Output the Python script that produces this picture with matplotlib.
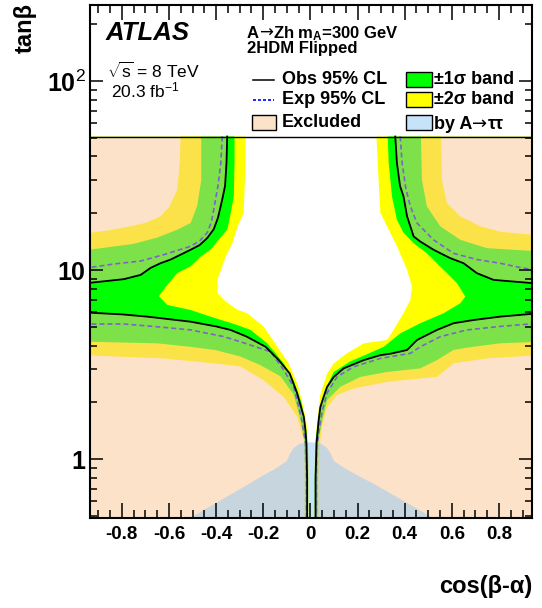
import numpy as np
import matplotlib
matplotlib.use("Agg")
import matplotlib.pyplot as plt
from matplotlib.patches import Rectangle
from matplotlib.lines import Line2D
from matplotlib.ticker import MultipleLocator, LogLocator, NullFormatter

plt.rcParams['font.family'] = ['Liberation Sans', 'DejaVu Sans']
plt.rcParams['mathtext.fontset'] = 'custom'
plt.rcParams['mathtext.rm'] = 'Liberation Sans'
plt.rcParams['mathtext.it'] = 'Liberation Sans:italic'
plt.rcParams['mathtext.bf'] = 'Liberation Sans:bold'

# contours, (cos(beta-alpha), tan beta), from top to bottom
# left half: excluded where x < curve ; right half: excluded where x > curve
obs_left = np.array([
    (-0.353, 51), (-0.356, 37), (-0.362, 28), (-0.374, 23.7), (-0.392, 19.0), (-0.410, 16.5),
    (-0.438, 14.8), (-0.470, 13.6), (-0.508, 12.85), (-0.593, 11.4), (-0.636, 10.9), (-0.678, 10.3),
    (-0.720, 9.46), (-0.791, 8.98), (-0.97, 8.5),
    (-0.97, 6.0), (-0.800, 5.85), (-0.692, 5.69), (-0.508, 5.35), (-0.400, 5.05), (-0.339, 4.84),
    (-0.270, 4.46), (-0.190, 3.94), (-0.134, 3.35), (-0.088, 2.85), (-0.057, 2.25), (-0.028, 1.68),
    (-0.021, 1.42), (-0.017, 1.22), (-0.014, 0.8), (-0.014, 0.45)])
exp_left = np.array([
    (-0.374, 51), (-0.380, 37), (-0.392, 28), (-0.410, 21), (-0.420, 18), (-0.438, 15.8),
    (-0.470, 14.3), (-0.508, 13.4), (-0.622, 12.1), (-0.720, 11.2), (-0.833, 10.8), (-0.97, 10.2),
    (-0.97, 5.2), (-0.790, 5.2), (-0.650, 5.03), (-0.508, 4.84), (-0.367, 4.46), (-0.297, 4.19),
    (-0.169, 3.71), (-0.113, 2.97), (-0.071, 2.42), (-0.040, 1.70), (-0.022, 1.26), (-0.018, 0.8),
    (-0.018, 0.45)])
p1_left = np.array([
    (-0.463, 51), (-0.463, 30), (-0.480, 22), (-0.508, 17.8), (-0.565, 16.4), (-0.650, 14.9),
    (-0.750, 13.8), (-0.97, 12.7),
    (-0.97, 4.2), (-0.650, 4.11), (-0.508, 3.94), (-0.400, 3.78), (-0.297, 3.50), (-0.212, 3.15),
    (-0.127, 2.75), (-0.071, 2.20), (-0.042, 1.62), (-0.026, 1.26), (-0.021, 0.8), (-0.021, 0.45)])
p2_left = np.array([
    (-0.551, 51), (-0.554, 37), (-0.565, 26.7), (-0.600, 21.5), (-0.636, 19.3), (-0.700, 17.8),
    (-0.763, 17.1), (-0.850, 16.3), (-0.97, 15.6),
    (-0.97, 3.56), (-0.622, 3.42), (-0.410, 3.22), (-0.297, 3.10), (-0.198, 2.62), (-0.113, 2.14),
    (-0.056, 1.68), (-0.028, 1.26), (-0.025, 0.8), (-0.025, 0.45)])
m1_left = np.array([
    (-0.322, 51), (-0.322, 37), (-0.325, 24.6), (-0.340, 19.5), (-0.353, 16.4), (-0.389, 14.5),
    (-0.424, 12.85), (-0.466, 11.8), (-0.508, 10.5), (-0.565, 9.66), (-0.607, 8.38), (-0.643, 7.3),
    (-0.607, 6.56), (-0.508, 6.17), (-0.424, 5.69), (-0.311, 5.14), (-0.254, 4.84), (-0.183, 4.11),
    (-0.113, 3.22), (-0.071, 2.62), (-0.038, 2.0), (-0.019, 1.5), (-0.013, 1.2), (-0.010, 0.8),
    (-0.010, 0.45)])
m2_left = np.array([
    (-0.275, 51), (-0.278, 30), (-0.283, 20), (-0.310, 17), (-0.330, 14), (-0.360, 11.8),
    (-0.380, 10), (-0.395, 8.9), (-0.395, 7.6), (-0.360, 6.85), (-0.311, 6.2), (-0.268, 5.93),
    (-0.198, 5.03), (-0.140, 3.94), (-0.092, 3.22), (-0.053, 2.47), (-0.030, 1.9), (-0.018, 1.6),
    (-0.010, 1.26), (-0.007, 0.8), (-0.007, 0.45)])

obs_right = np.array([
    (0.360, 51), (0.367, 37), (0.380, 28), (0.395, 24.6), (0.410, 19.3), (0.438, 15.1),
    (0.466, 14.2), (0.522, 12.85), (0.593, 11.6), (0.650, 10.9), (0.706, 9.66), (0.777, 8.9),
    (0.97, 8.5),
    (0.97, 5.93), (0.805, 5.69), (0.692, 5.46), (0.607, 5.25), (0.537, 4.84), (0.452, 4.28),
    (0.410, 3.79), (0.339, 3.62), (0.297, 3.56), (0.226, 3.35), (0.141, 3.03), (0.099, 2.73),
    (0.071, 2.42), (0.056, 2.14), (0.042, 1.89), (0.035, 1.61), (0.026, 1.22), (0.022, 0.8),
    (0.022, 0.45)])
exp_right = np.array([
    (0.381, 51), (0.389, 37), (0.405, 27), (0.424, 21.8), (0.452, 17.8), (0.522, 14.5),
    (0.607, 12.3), (0.706, 11.4), (0.805, 10.9), (0.897, 10.3), (0.97, 10.0),
    (0.97, 5.25), (0.805, 5.05), (0.664, 4.84), (0.551, 4.46), (0.466, 3.94), (0.424, 3.64),
    (0.297, 3.42), (0.183, 3.09), (0.113, 2.73), (0.071, 2.25), (0.050, 1.8), (0.036, 1.40),
    (0.029, 1.2), (0.026, 0.8), (0.026, 0.45)])
p1_right = np.array([
    (0.469, 51), (0.473, 30.2), (0.494, 21.8), (0.551, 17.1), (0.636, 14.5), (0.749, 13.1),
    (0.97, 12.6),
    (0.97, 4.19), (0.805, 4.11), (0.664, 3.90), (0.607, 3.79), (0.537, 3.35), (0.466, 3.03),
    (0.325, 2.90), (0.212, 2.73), (0.127, 2.42), (0.071, 2.06), (0.050, 1.6), (0.034, 1.26),
    (0.030, 0.8), (0.030, 0.45)])
p2_right = np.array([
    (0.554, 51), (0.558, 30), (0.579, 22.7), (0.636, 19.3), (0.720, 17.1), (0.805, 16.0),
    (0.97, 15.3),
    (0.97, 3.56), (0.749, 3.42), (0.607, 3.22), (0.537, 2.73), (0.466, 2.68), (0.325, 2.57),
    (0.183, 2.37), (0.113, 2.19), (0.071, 1.89), (0.050, 1.5), (0.042, 1.26), (0.036, 0.8),
    (0.036, 0.45)])
m1_right = np.array([
    (0.328, 51), (0.332, 37), (0.346, 24.6), (0.367, 18.5), (0.395, 15.8), (0.438, 13.9),
    (0.494, 12.3), (0.565, 10.06), (0.622, 8.55), (0.657, 7.26), (0.636, 6.70), (0.565, 5.93),
    (0.466, 5.25), (0.381, 4.64), (0.311, 3.94), (0.240, 3.60), (0.169, 3.30), (0.099, 2.90),
    (0.060, 2.30), (0.035, 1.70), (0.022, 1.25), (0.018, 0.8), (0.018, 0.45)])
m2_right = np.array([
    (0.280, 51), (0.289, 30.2), (0.297, 20.1), (0.325, 17.1), (0.367, 13.4), (0.410, 10.06),
    (0.431, 8.21), (0.424, 6.98), (0.395, 5.93), (0.353, 4.84), (0.325, 4.28), (0.226, 4.11),
    (0.155, 3.64), (0.099, 3.22), (0.071, 2.85), (0.042, 2.2), (0.028, 1.55), (0.020, 1.22),
    (0.016, 0.8), (0.015, 0.45)])

# region excluded by A->tautau
tautau = np.array([
    (-0.53, 0.45), (-0.51, 0.49), (-0.42, 0.57), (-0.34, 0.65), (-0.27, 0.73), (-0.21, 0.81),
    (-0.15, 0.89), (-0.10, 0.98), (-0.085, 1.08), (-0.07, 1.15), (-0.045, 1.21), (0.0, 1.235),
    (0.045, 1.21), (0.07, 1.15), (0.085, 1.08), (0.10, 0.98), (0.15, 0.89), (0.21, 0.81),
    (0.28, 0.73), (0.35, 0.65), (0.43, 0.57), (0.52, 0.49), (0.54, 0.45)])

xticks = [-0.8, -0.6, -0.4, -0.2, 0, 0.2, 0.4, 0.6, 0.8]
xtick_labels = ['-0.8', '-0.6', '-0.4', '-0.2', '0', '0.2', '0.4', '0.6', '0.8']
yticks = [1, 10, 100]
ytick_labels = [r'$\mathbf{1}$', r'$\mathbf{10}$', r'$\mathbf{10}^{2}$']

c_yellow = '#ffff00'
c_green = '#00ff00'
c_excl = (0.98, 0.776, 0.576, 0.5)
c_tau = (0.569, 0.788, 0.961, 0.5)

W, H = 542, 608
fig = plt.figure(figsize=(W / 100, H / 100), dpi=100)
ax = fig.add_axes([90 / W, 1 - 518 / H, 442 / W, 513 / H])
ax.set_yscale('log')


def region(curve, side):
    # close the contour against the plot edge on its excluded side
    xs = np.concatenate([[side], curve[:, 0], [side]])
    ys = np.concatenate([[curve[0, 1]], curve[:, 1], [curve[-1, 1]]])
    return xs, ys


for crv_l, crv_r, col in [(m2_left, m2_right, c_yellow), (m1_left, m1_right, c_green),
                          (p1_left, p1_right, c_yellow), (p2_left, p2_right, 'white')]:
    ax.fill(*region(crv_l, -1.0), color=col, lw=0, zorder=1)
    ax.fill(*region(crv_r, 1.0), color=col, lw=0, zorder=1)

# expected line sits under the semi-transparent excluded layer
for crv in (exp_left, exp_right):
    ax.plot(crv[:, 0], crv[:, 1], color='#0000ff', lw=1.2, dashes=(3, 1.8), zorder=1.2)

ax.fill(*region(obs_left, -1.0), color=c_excl, lw=0, zorder=1.4)
ax.fill(*region(obs_right, 1.0), color=c_excl, lw=0, zorder=1.4)
ax.fill(tautau[:, 0], tautau[:, 1], color=c_tau, lw=0, zorder=1.5)

for crv in (obs_left, obs_right):
    ax.plot(crv[:, 0], crv[:, 1], color='black', lw=1.3, zorder=2)

ax.axhline(51, color='black', lw=1.0, zorder=2)

ax.set_xlim(-0.935, 0.94)
ax.set_ylim(0.49, 253)

ax.set_xticks(xticks, labels=xtick_labels)
ax.xaxis.set_minor_locator(MultipleLocator(0.05))
ax.set_yticks(yticks, labels=ytick_labels)
ax.yaxis.set_minor_locator(LogLocator(base=10, subs=np.arange(2, 10)))
ax.yaxis.set_minor_formatter(NullFormatter())
ax.tick_params(which='both', direction='in', top=True, right=True, width=1.1)
ax.tick_params(axis='x', which='major', length=10.8, pad=6, labelsize=13.5)
ax.tick_params(axis='x', which='minor', length=5.5)
ax.tick_params(axis='y', which='major', length=9.4, pad=3, labelsize=18)
ax.tick_params(axis='y', which='minor', length=5)
for lab in ax.get_xticklabels():
    lab.set_fontweight('bold')
for sp in ax.spines.values():
    sp.set_linewidth(1.5)


def fx(px):
    return px / W


def fy(py):
    return 1 - py / H


renderer = fig.canvas.get_renderer()


def text_run(x_px, base_py, pieces, size):
    # pieces of (text, family, weight) set one after another on a common baseline
    x = fx(x_px)
    for s, fam, wt in pieces:
        t = fig.text(x, fy(base_py), s, family=fam, fontweight=wt, fontsize=size,
                     ha='left', va='baseline')
        x = t.get_window_extent(renderer).x1 / W


fig.text(fx(532), fy(587), 'cos(β-α)', ha='right', va='center', fontsize=17, fontweight='bold')
fig.text(fx(25), fy(3), 'tanβ', ha='center', va='top', rotation=90, fontsize=17, fontweight='bold')

fig.text(fx(106), fy(33), 'ATLAS', ha='left', va='center', fontsize=18.5, fontweight='bold', style='italic')
fig.text(fx(107), fy(71), r'$\sqrt{\mathrm{s}}$ = 8 TeV', ha='left', va='center', fontsize=12.5)
fig.text(fx(111), fy(90), r'20.3 fb$^{\mathrm{-1}}$', ha='left', va='center', fontsize=12.5)
text_run(247, 38, [('A', 'Liberation Sans', 'bold'), ('→', 'DejaVu Sans', 'normal'),
                   (r'Zh m$_{\mathbf{A}}$=300 GeV', 'Liberation Sans', 'bold')], 12)
fig.text(fx(247), fy(49), '2HDM Flipped', ha='left', va='center', fontsize=12, fontweight='bold')

rows = [79.5, 99.5, 122.5]
fig.add_artist(Line2D([fx(253), fx(274)], [fy(rows[0])] * 2, transform=fig.transFigure,
                      color='black', lw=1.1))
fig.add_artist(Line2D([fx(253), fx(274)], [fy(rows[1])] * 2, transform=fig.transFigure,
                      color='#0000ff', lw=1.2, dashes=(1.8, 1.2)))
fig.add_artist(Rectangle((fx(252), fy(rows[2] + 7.2)), 24 / W, 14.4 / H, transform=fig.transFigure,
                         facecolor=c_excl, edgecolor='black', lw=1.0))
for r, col in zip(rows, [c_green, c_yellow, c_tau]):
    fig.add_artist(Rectangle((fx(406), fy(r + 7.2)), 25.5 / W, 14.4 / H, transform=fig.transFigure,
                             facecolor=col, edgecolor='black', lw=1.0))

for r, t in zip(rows, ['Obs 95% CL', 'Exp 95% CL', 'Excluded']):
    fig.text(fx(282), fy(r), t, ha='left', va='center', fontsize=13, fontweight='bold')
for r, t in zip(rows[:2], ['±1σ band', '±2σ band']):
    fig.text(fx(434), fy(r), t, ha='left', va='center', fontsize=13, fontweight='bold')
text_run(434, rows[2] + 6.5, [('by A', 'Liberation Sans', 'bold'), ('→', 'DejaVu Sans', 'normal'),
                              ('ττ', 'Liberation Sans', 'bold')], 13)

fig.savefig('out.png', dpi=100)
